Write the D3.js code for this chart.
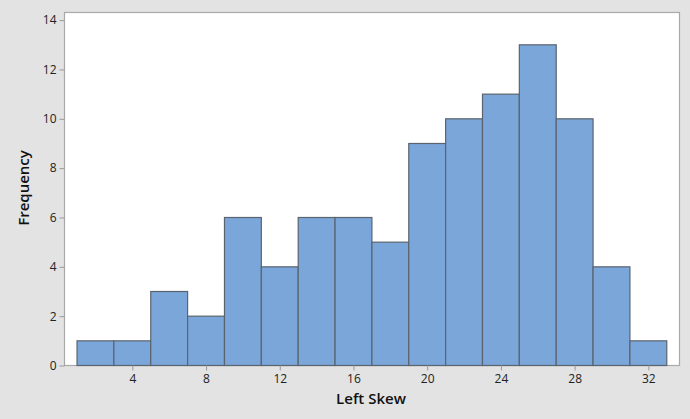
<!DOCTYPE html>
<html>
<head>
<meta charset="utf-8">
<script src="https://cdn.jsdelivr.net/npm/d3@7"></script>
<style>
  html, body { margin: 0; padding: 0; background: #e3e3e3; }
  .tick text { font-family: "Open Sans", sans-serif; font-size: 12px; fill: #222; }
  .axis-title { font-family: "Open Sans", sans-serif; font-weight: 600; fill: #111; }
</style>
</head>
<body>
<div id="chart"></div>
<script>
// histogram bins (left edge, right edge) and counts
const binStarts = [1, 3, 5, 7, 9, 11, 13, 15, 17, 19, 21, 23, 25, 27, 29, 31];
const binWidth = 2;
const counts = [1, 1, 3, 2, 6, 4, 6, 6, 5, 9, 10, 11, 13, 10, 4, 1];
const xTicks = [4, 8, 12, 16, 20, 24, 28, 32];
const yTicks = [0, 2, 4, 6, 8, 10, 12, 14];

const W = 690, H = 419;
const margin = { top: 12.5, right: 10.5, bottom: 53.5, left: 64.5 };
const width = W - margin.left - margin.right,
      height = H - margin.top - margin.bottom;

const svg = d3.select("#chart").append("svg")
    .attr("width", W)
    .attr("height", H);

const g = svg.append("g")
    .attr("transform", `translate(${margin.left},${margin.top})`);

let x = d3.scaleLinear().domain([0.32, 33.69]).range([0, width]);
let y = d3.scaleLinear().domain([0, 14.31]).range([height, 0]);

// plot area
g.append("rect")
    .attr("width", width)
    .attr("height", height)
    .attr("fill", "#fff")
    .attr("stroke", "#a9a9a9")
    .attr("stroke-width", 1.2);

// bars
g.selectAll("rect.bar")
    .data(binStarts)
    .join("rect")
    .attr("class", "bar")
    .attr("x", d => x(d))
    .attr("y", (d, i) => y(counts[i]))
    .attr("width", d => x(d + binWidth) - x(d))
    .attr("height", (d, i) => y(0) - y(counts[i]))
    .attr("fill", "#7ba6d9")
    .attr("stroke", "#5b646e")
    .attr("stroke-width", 1.2);

// axes
let xAxis = g.append("g")
    .attr("transform", `translate(0,${height})`)
    .call(d3.axisBottom(x).tickValues(xTicks).tickSize(5).tickPadding(4));
let yAxis = g.append("g")
    .call(d3.axisLeft(y).tickValues(yTicks).tickSize(5).tickPadding(3));
[xAxis, yAxis].forEach(a => {
    a.select(".domain").remove();
    a.selectAll(".tick line").attr("stroke", "#9a9a9a");
});

// titles
svg.append("text")
    .attr("class", "axis-title")
    .attr("x", 371)
    .attr("y", 404)
    .attr("text-anchor", "middle")
    .style("font-size", "15px")
    .text("Left Skew");

svg.append("text")
    .attr("class", "axis-title")
    .attr("transform", "translate(29,188) rotate(-90)")
    .attr("text-anchor", "middle")
    .style("font-size", "15px")
    .text("Frequency");
</script>
</body>
</html>
